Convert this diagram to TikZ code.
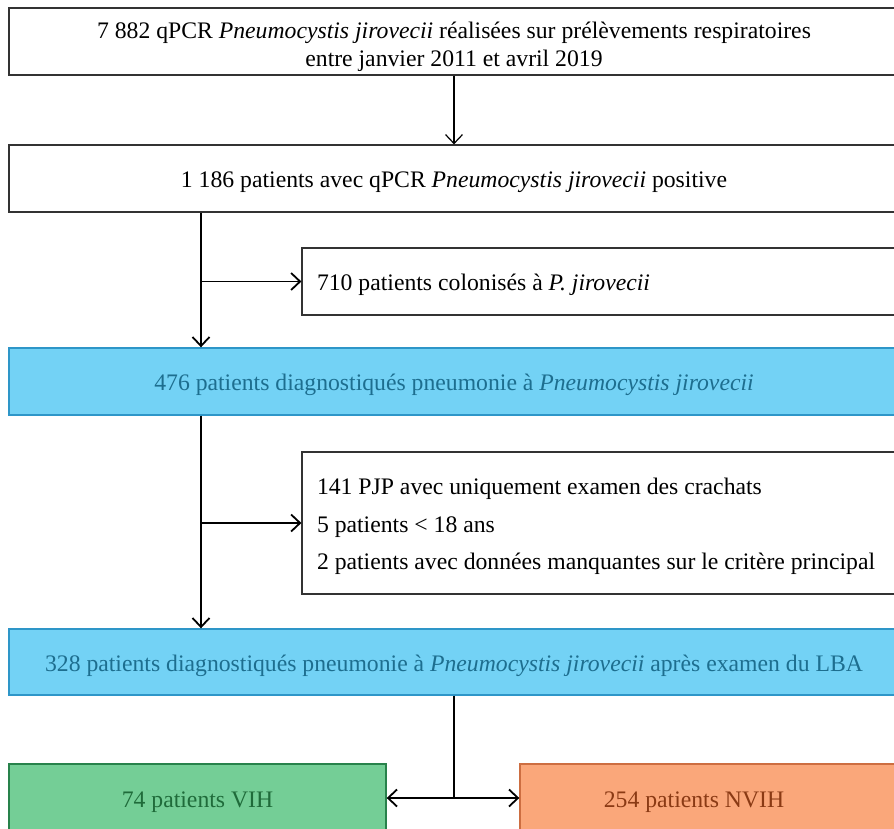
\documentclass[tikz,border=0pt]{standalone}
\usepackage{fontspec}
\setmainfont{Liberation Serif}
\usetikzlibrary{arrows.meta,calc}
\definecolor{bluefill}{RGB}{115,210,245}
\definecolor{blueline}{RGB}{46,150,200}
\definecolor{bluetext}{RGB}{29,110,143}
\definecolor{greenfill}{RGB}{116,206,150}
\definecolor{greenline}{RGB}{40,130,75}
\definecolor{greentext}{RGB}{31,107,58}
\definecolor{orangefill}{RGB}{250,167,122}
\definecolor{orangeline}{RGB}{205,110,65}
\definecolor{orangetext}{RGB}{138,58,20}
\tikzset{
  every node/.style={font=\fontsize{23.7}{37.5}\selectfont},
  oneline/.style={text height=22pt, text depth=4pt},
  boxw/.style={draw=black!80, line width=1.2pt, fill=white, rectangle, inner sep=0pt},
  boxb/.style={draw=blueline, line width=1.4pt, fill=bluefill, text=bluetext, rectangle, inner sep=0pt},
  boxg/.style={draw=greenline, line width=1.4pt, fill=greenfill, rectangle, inner sep=0pt},
  boxo/.style={draw=orangeline, line width=1.4pt, fill=orangefill, rectangle, inner sep=0pt},
  thinarr/.style={-{Straight Barb[length=9pt,width=17pt]}, line width=1.2pt},
  thickarr/.style={-{Straight Barb[length=9pt,width=17pt]}, line width=1.8pt},
}
\begin{document}
\begin{tikzpicture}[x=1pt,y=-1pt]
\useasboundingbox (0,0) rectangle (894,829);
\clip (0,0) rectangle (894,829);
\fill[white] (0,0) rectangle (894,829);
% boxes
\node[boxw, minimum width=890pt, minimum height=67pt, align=center] (b1) at (454,41.5)
  {\rule{0pt}{27pt}7 882 qPCR \textit{Pneumocystis jirovecii} réalisées sur prélèvements respiratoires\\[-10pt]entre janvier 2011 et avril 2019};
\node[boxw, oneline, minimum width=890pt, minimum height=67pt] (b2) at (454,178.5)
  {1 186 patients avec qPCR \textit{Pneumocystis jirovecii} positive};
\node[boxw, oneline, minimum width=605pt, minimum height=67pt, text width=575pt, align=flush left] (b3) at (604.5,281.5)
  {710 patients colonisés à \textit{P. jirovecii}};
\node[boxb, oneline, minimum width=890pt, minimum height=67pt] (b4) at (454,381.5)
  {476 patients diagnostiqués pneumonie à \textit{Pneumocystis jirovecii}};
\node[boxw, minimum width=605pt, minimum height=142pt, text width=575pt, align=flush left] (b5) at (604.5,523)
  {\rule{0pt}{24pt}141 PJP avec uniquement examen des crachats\\5 patients < 18 ans\\2 patients avec données manquantes sur le critère principal};
\node[boxb, oneline, minimum width=890pt, minimum height=66pt] (b6) at (454,662)
  {328 patients diagnostiqués pneumonie à \textit{Pneumocystis jirovecii} après examen du LBA};
\node[boxg, oneline, text=greentext, minimum width=377pt, minimum height=68pt] (vih) at (197.5,798)
  {74 patients VIH};
\node[boxo, minimum width=379pt, minimum height=68pt] (nvih) at (709.5,798) {};
\node[oneline, text=orangetext] (nvihtxt) at (694,798) {254 patients NVIH};
% connectors
\coordinate (trunk) at (201,0);
\draw[thinarr] (b1.south) -- (b2.north);
\draw[thickarr] (b2.south -| trunk) -- (b4.north -| trunk);
\draw[thickarr] (trunk |- b3.west) -- (b3.west);
\draw[thickarr] (b4.south -| trunk) -- (b6.north -| trunk);
\draw[thickarr] (trunk |- b5.west) -- (b5.west);
\coordinate (split) at (b6.south |- vih.east);
\draw[line width=1.2pt] (b6.south) -- (split);
\draw[thickarr] (split) -- (vih.east);
\draw[thickarr] (split) -- (nvih.west);
\end{tikzpicture}
\end{document}
